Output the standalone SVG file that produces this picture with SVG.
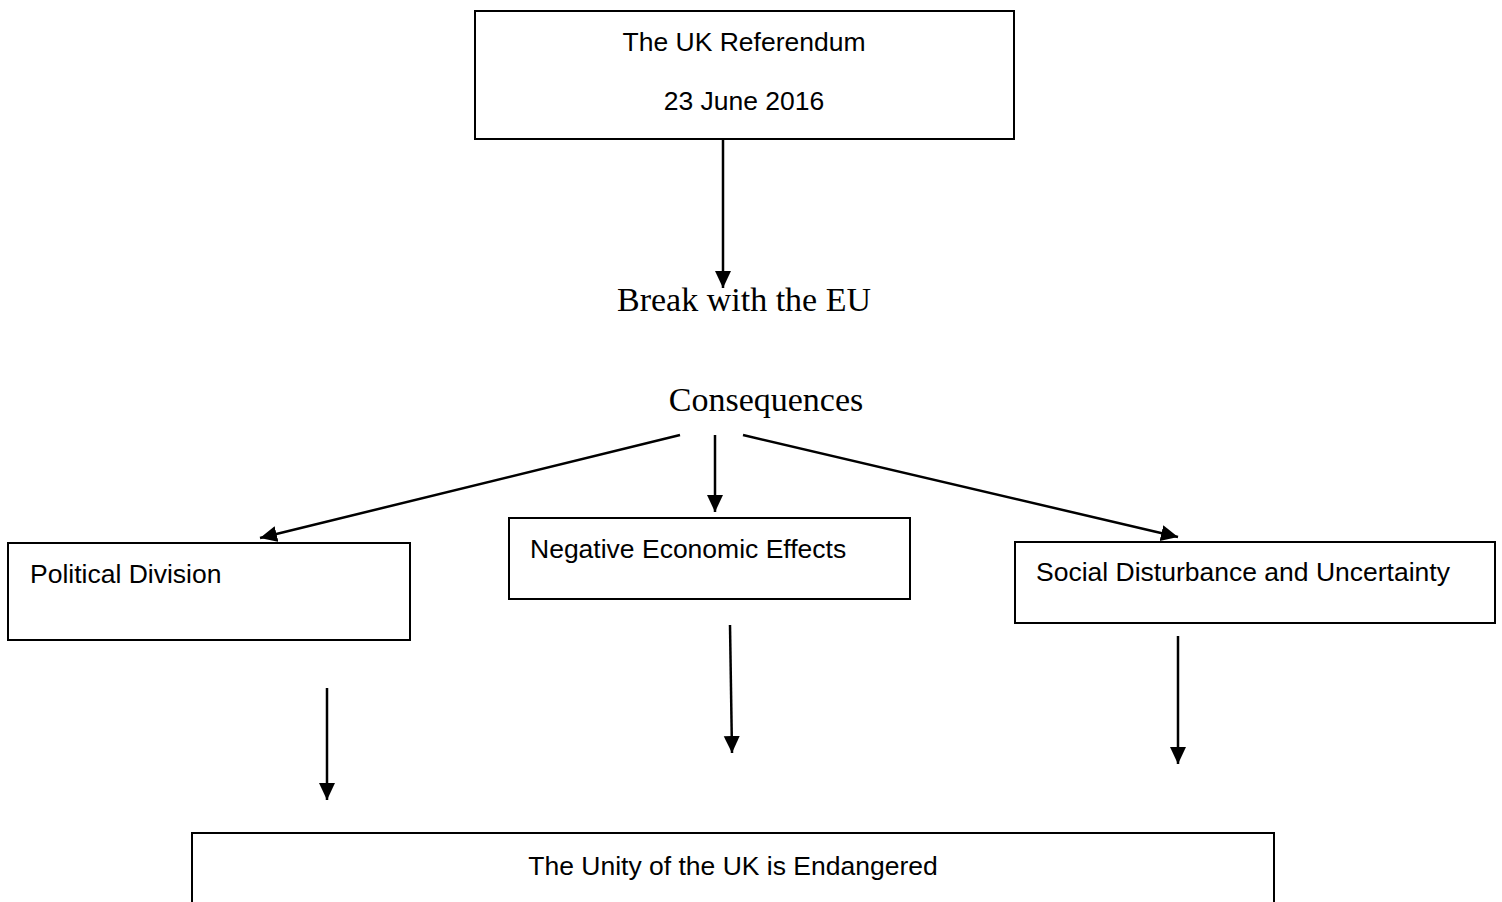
<svg xmlns="http://www.w3.org/2000/svg" width="1502" height="902" viewBox="0 0 1502 902">
<style>
.box{fill:#fff;stroke:#000;stroke-width:2}
.t{font-family:"Liberation Sans",Arial,sans-serif;font-size:26.5px;fill:#000}
.s{font-family:"Liberation Serif","Times New Roman",serif;font-size:34px;fill:#000}
.c{fill:none;stroke:#000;stroke-width:2.5}
</style>
<defs>
<marker id="ah" markerUnits="userSpaceOnUse" markerWidth="18" markerHeight="18" refX="17" refY="8" orient="auto">
<path d="M0,0 L17,8 L0,16 Z" fill="#000"/>
</marker>
</defs>
<rect width="1502" height="902" fill="#fff"/>
<g id="referendum">
<rect class="box" x="475" y="11" width="539" height="128"/>
<text class="t" x="744" y="51" text-anchor="middle">The UK Referendum</text>
<text class="t" x="744" y="110" text-anchor="middle">23 June 2016</text>
</g>
<g id="break">
<text class="s" x="744" y="311" text-anchor="middle">Break with the EU</text>
</g>
<g id="consequences">
<text class="s" x="766" y="411" text-anchor="middle">Consequences</text>
</g>
<g id="political">
<rect class="box" x="8" y="543" width="402" height="97"/>
<text class="t" x="30" y="583">Political Division</text>
</g>
<g id="economic">
<rect class="box" x="509" y="518" width="401" height="81"/>
<text class="t" x="530" y="558">Negative Economic Effects</text>
</g>
<g id="social">
<rect class="box" x="1015" y="542" width="480" height="81"/>
<text class="t" x="1036" y="581">Social Disturbance and Uncertainty</text>
</g>
<g id="unity">
<rect class="box" x="192" y="833" width="1082" height="80"/>
<text class="t" x="733" y="875" text-anchor="middle">The Unity of the UK is Endangered</text>
</g>
<g id="connectors">
<line class="c" x1="723" y1="139" x2="723" y2="288" marker-end="url(#ah)"/>
<line class="c" x1="680" y1="435" x2="260" y2="538" marker-end="url(#ah)"/>
<line class="c" x1="715" y1="435" x2="715" y2="512" marker-end="url(#ah)"/>
<line class="c" x1="743" y1="435" x2="1178" y2="537" marker-end="url(#ah)"/>
<line class="c" x1="327" y1="688" x2="327" y2="800" marker-end="url(#ah)"/>
<line class="c" x1="730" y1="625" x2="732" y2="753" marker-end="url(#ah)"/>
<line class="c" x1="1178" y1="636" x2="1178" y2="764" marker-end="url(#ah)"/>
</g>
</svg>
